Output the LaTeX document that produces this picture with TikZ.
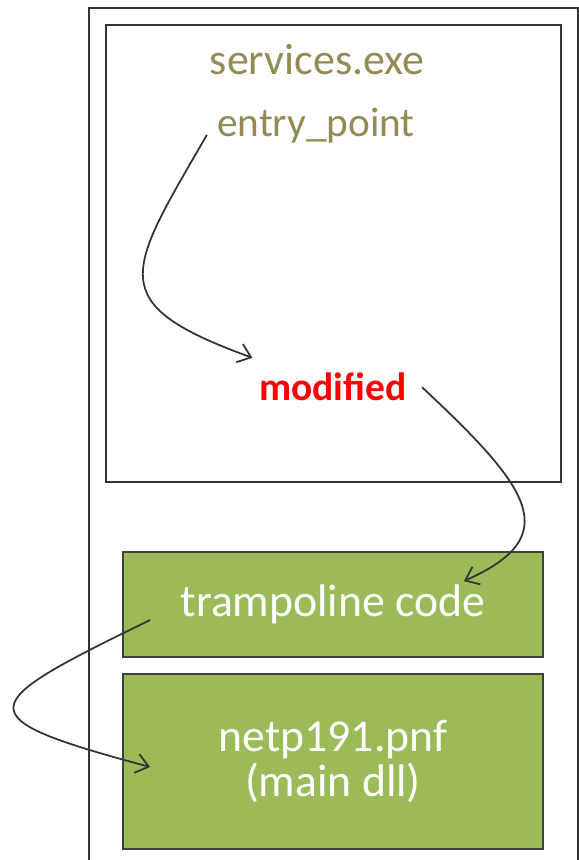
\documentclass[tikz,border=0pt]{standalone}
\usepackage{fontspec}
\setmainfont{Carlito}
\usetikzlibrary{arrows.meta}

\definecolor{olive}{HTML}{948A54}
\definecolor{hookred}{HTML}{FF0000}
\definecolor{dllgreen}{HTML}{9BBB59}

\tikzset{
  label/.style={inner sep=0pt, anchor=base},
  greenbox/.style={draw=black!75, line width=1pt, fill=dllgreen, text=white,
    minimum width=8.4cm, align=center, inner sep=0pt},
  jump/.style={draw=black!80, line width=1pt, ->, >={Straight Barb[length=7pt,width=11pt]}}
}

\begin{document}
\begin{tikzpicture}

  \useasboundingbox (0,0) rectangle (11.58,17.2);

  % process memory
  \draw[black!80, line width=0.9pt] (1.78,0) -- (1.78,17.04) -- (11.56,17.04) -- (11.56,0);

  % services.exe image
  \draw[black!80, line width=1.2pt] (2.12,16.7) rectangle (11.22,7.56);
  \node[label, text=olive, font=\fontsize{25}{30}\selectfont] (svc) at (6.34,15.70) {services.exe};
  \node[label, text=olive, font=\fontsize{23.5}{28}\selectfont] (entry) at (6.32,14.46) {entry\_point};
  \node[label, text=hookred, font=\bfseries\fontsize{22.5}{26}\selectfont] (mod) at (6.66,9.18) {modified};

  % injected code
  \node[greenbox, minimum height=2.1cm, font=\fontsize{26}{30}\selectfont] (tramp) at (6.66,5.11) {trampoline code};
  \node[greenbox, minimum height=3.5cm, font=\fontsize{26}{25.5}\selectfont] (netp) at (6.66,1.97) {netp191.pnf\\(main dll)};

  \draw[jump] ([shift={(-0.2,0.04)}]entry.base west) to[out=240, in=160, distance=3.2cm]
    ([shift={(-0.13,0.3)}]mod.north west);
  \draw[jump] ([xshift=0.3cm]mod.east) to[out=-43, in=24, out distance=3cm, in distance=2.2cm]
    ([shift={(-1.6,-0.6)}]tramp.north east);
  \draw[jump] ([shift={(0.56,-0.31)}]tramp.west) to[out=206, in=165, distance=3.9cm]
    ([shift={(0.56,-0.11)}]netp.west);

\end{tikzpicture}
\end{document}
